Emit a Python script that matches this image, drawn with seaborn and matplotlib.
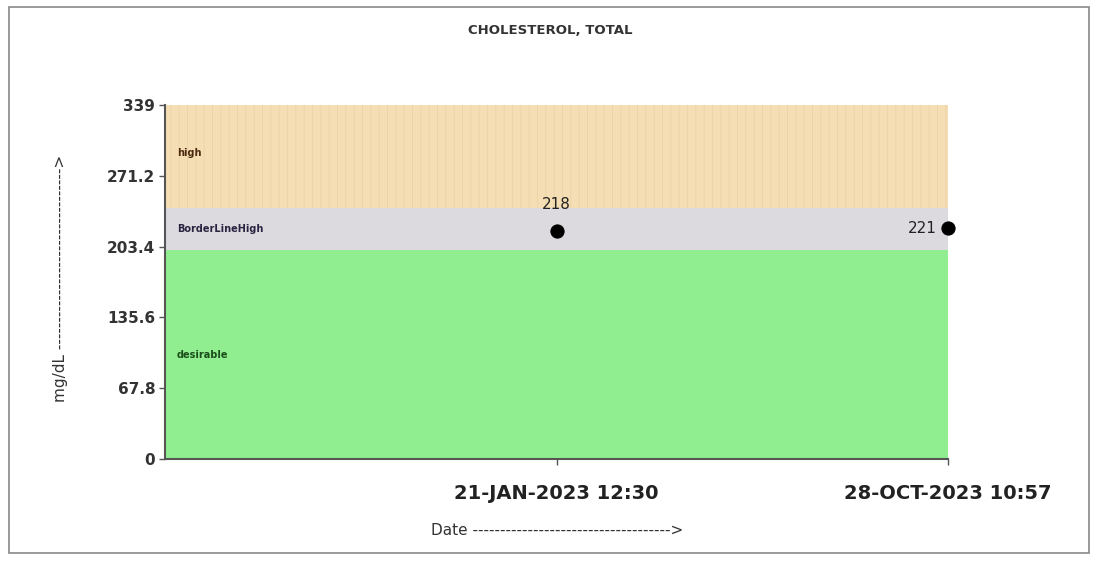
import matplotlib
matplotlib.use("Agg")
import matplotlib.pyplot as plt
import seaborn as sns
import pandas as pd
from matplotlib.patches import Rectangle

dates = ["21-JAN-2023 12:30", "28-OCT-2023 10:57"]
values = [218, 221]
band_names = ["desirable", "BorderLineHigh", "high"]
band_low = [0, 200, 240]
band_high = [200, 240, 339]
band_colors = ["#90EE90", "#DCDADF", "#F5DEB3"]
band_text_colors = ["#1a4d1a", "#2a2440", "#4a2a10"]
yticks = [0, 67.8, 135.6, 203.4, 271.2, 339]

sns.set_theme(style="white")
plt.rcParams['font.family'] = ['DejaVu Sans']
plt.rcParams['hatch.linewidth'] = 0.6

fig = plt.figure(figsize=(10.97, 5.63), dpi=100)
ax = fig.add_axes([0.1504, 0.1847, 0.7138, 0.6288])

pos = [1, 2]
for lo, hi, col in zip(band_low, band_high, band_colors):
    ax.axhspan(lo, hi, xmin=0, xmax=1, color=col, lw=0, zorder=0)
# vertical stripes in high band
ax.axhspan(band_low[2], band_high[2], facecolor="none", edgecolor="#EBD3A8",
           hatch="||", lw=0, zorder=0.5)

label_y = [100, 220, 293]
for name, ly, tc in zip(band_names, label_y, band_text_colors):
    ax.text(0.03, ly, name, fontsize=7, fontweight="bold", color=tc,
            ha="left", va="center", zorder=2)

df = pd.DataFrame({"x": pos, "y": values})
sns.scatterplot(data=df, x="x", y="y", ax=ax, color="black", s=90,
                edgecolor="black", zorder=5, clip_on=False)
ax.annotate(str(values[0]), (pos[0], values[0]), xytext=(0, 14), textcoords="offset points",
            ha="center", va="bottom", fontsize=11, color="#222222")
ax.annotate(str(values[1]), (pos[1], values[1]), xytext=(-8, 0), textcoords="offset points",
            ha="right", va="center", fontsize=11, color="#222222")

ax.set_xlim(0, 2)
ax.set_ylim(0, 339)
ax.set_xticks(pos)
ax.set_xticklabels(dates, fontsize=14, fontweight="bold", color="#222222")
ax.set_yticks(yticks)
ax.set_yticklabels(["0", "67.8", "135.6", "203.4", "271.2", "339"], fontsize=11,
                   fontweight="semibold", color="#333333")
ax.tick_params(axis="both", direction="out", length=4, width=1, color="#555555", pad=3, bottom=True, left=True)
ax.tick_params(axis="x", pad=14)
for s in ["top", "right"]:
    ax.spines[s].set_visible(False)
for s in ["left", "bottom"]:
    ax.spines[s].set_color("#555555")
    ax.spines[s].set_linewidth(1.5)
ax.set_xlabel("")
ax.set_ylabel("")

fig.text(0.055, 0.505, "mg/dL --------------------------------->", rotation=90, ha="center", va="center",
         fontsize=11, color="#333333")
fig.text(0.393, 0.058, "Date ------------------------------------>", ha="left", va="center",
         fontsize=11, color="#333333")
fig.text(0.502, 0.945, "CHOLESTEROL, TOTAL", ha="center", va="center", fontsize=9.5,
         fontweight="bold", color="#333333")

fig.patches.append(Rectangle((0.008, 0.018), 0.985, 0.97, transform=fig.transFigure,
                             fill=False, edgecolor="#888888", lw=1.2))

fig.savefig("out.png", dpi=100)
